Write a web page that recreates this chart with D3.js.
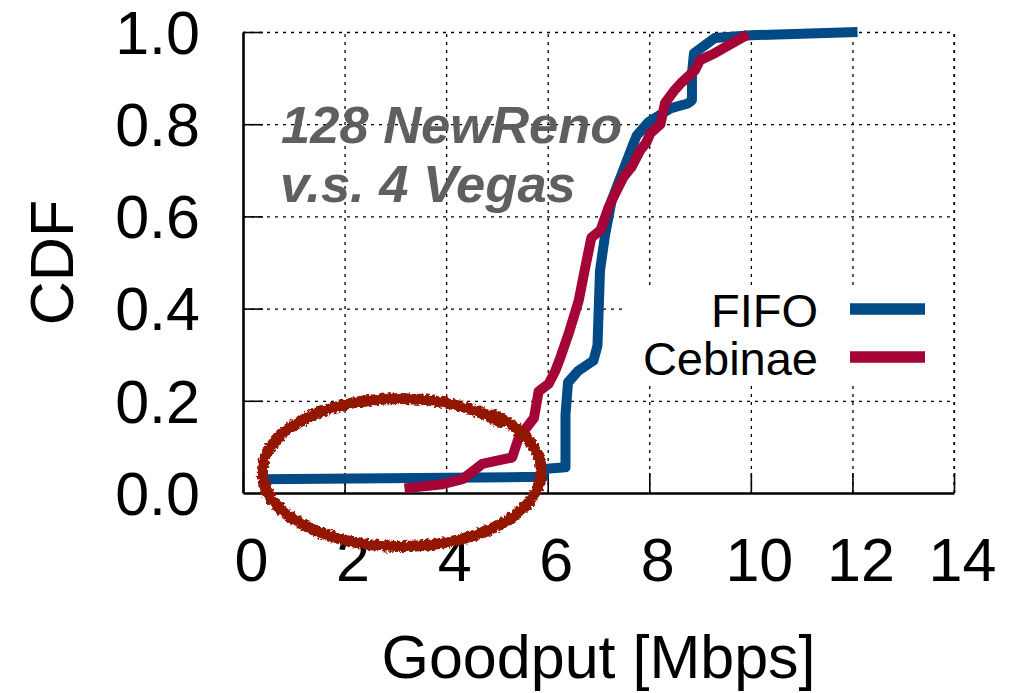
<!DOCTYPE html>
<meta charset="utf-8">
<script src="https://d3js.org/d3.v7.min.js"></script>
<style>
  body { margin: 0; background: #fff; }
  svg text { font-family: "Liberation Sans", Arial, Helvetica, sans-serif; }
</style>
<div id="chart"></div>
<script>

// ticks
var xTicks = [0, 2, 4, 6, 8, 10, 12, 14];
var yTicks = [0.0, 0.2, 0.4, 0.6, 0.8, 1.0];

// FIFO cdf
var fifoX = [0.37, 5.92, 5.92, 6.35, 6.35, 6.40, 6.60, 6.90, 6.98, 7.03, 7.13, 7.26, 7.66, 7.75, 7.98, 8.43, 8.76, 8.84, 8.84, 8.88, 9.29, 10.0, 12.1];
var fifoY = [0.030, 0.035, 0.052, 0.056, 0.17, 0.24, 0.265, 0.287, 0.32, 0.483, 0.56, 0.635, 0.75, 0.775, 0.804, 0.835, 0.845, 0.852, 0.91, 0.954, 0.987, 0.993, 1.0];

// Cebinae cdf
var cebX = [3.18, 3.93, 4.32, 4.71, 5.30, 5.43, 5.73, 5.82, 6.02, 6.15, 6.25, 6.41, 6.61, 6.74, 6.86, 7.04, 7.20, 7.33, 7.49, 7.65, 7.82, 7.94, 8.02, 8.22, 8.31, 8.50, 8.63, 8.90, 9.00, 9.29, 9.94];
var cebY = [0.010, 0.019, 0.030, 0.063, 0.077, 0.12, 0.163, 0.22, 0.237, 0.265, 0.294, 0.345, 0.417, 0.49, 0.554, 0.57, 0.62, 0.65, 0.685, 0.707, 0.743, 0.76, 0.78, 0.80, 0.846, 0.874, 0.89, 0.917, 0.939, 0.954, 0.995];

var seriesNames = ["FIFO", "Cebinae"];
var seriesColors = ["#004a86", "#a50536"];

// ellipse drawn over the low tail (data units)
var circleCenter = [3.1, 0.046];
var circleRadius = [2.68, 0.158];

var margin = {top: 32, right: 58, bottom: 200, left: 243},
    width = 1012 - margin.left - margin.right,
    height = 693 - margin.top - margin.bottom;

var svg = d3.select("#chart")
  .append("svg")
    .attr("width", 1012)
    .attr("height", 693)
  .append("g")
    .attr("transform", "translate(" + margin.left + "," + margin.top + ")");

var defs = svg.append("defs");
var rough = defs.append("filter").attr("id", "rough")
  .attr("x", "-10%").attr("y", "-10%").attr("width", "120%").attr("height", "120%");
rough.append("feTurbulence")
  .attr("type", "fractalNoise").attr("baseFrequency", 0.3)
  .attr("numOctaves", 3).attr("seed", 4).attr("result", "noise");
rough.append("feDisplacementMap")
  .attr("in", "SourceGraphic").attr("in2", "noise")
  .attr("scale", 6).attr("xChannelSelector", "R").attr("yChannelSelector", "G");

var x = d3.scaleLinear().domain([0, 14]).range([0, width]);
var y = d3.scaleLinear().domain([0, 1]).range([height, 0]);

// grid
function styleGrid(g) {
  g.select(".domain").remove();
  g.selectAll("line")
    .attr("stroke", "#000")
    .attr("stroke-width", 1.3)
    .attr("stroke-dasharray", "3,5");
}
svg.append("g")
  .attr("transform", "translate(0," + height + ")")
  .call(d3.axisBottom(x).tickValues(xTicks.slice(1)).tickSize(-height).tickFormat(""))
  .call(styleGrid);
svg.append("g")
  .call(d3.axisLeft(y).tickValues(yTicks.slice(1)).tickSize(-width).tickFormat(""))
  .call(styleGrid);

// legend background hides the grid
svg.append("rect")
  .attr("x", 382).attr("y", 253)
  .attr("width", 325).attr("height", 97)
  .attr("fill", "#fff");

// right border, dotted, on top of the legend box
svg.append("line")
  .attr("x1", x(14)).attr("x2", x(14))
  .attr("y1", y(0)).attr("y2", y(1))
  .attr("stroke", "#000").attr("stroke-width", 1.3)
  .attr("stroke-dasharray", "3,5");

// axes
var xAxis = svg.append("g")
  .attr("transform", "translate(0," + height + ")")
  .call(d3.axisBottom(x).tickValues(xTicks).tickSize(-20).tickSizeOuter(0).tickPadding(45));
var yAxis = svg.append("g")
  .call(d3.axisLeft(y).tickValues(yTicks).tickSize(-20).tickSizeOuter(0).tickPadding(43)
    .tickFormat(d3.format(".1f")));

[xAxis, yAxis].forEach(function(a) {
  a.select(".domain").attr("stroke", "#000").attr("stroke-width", 2.6);
  a.selectAll(".tick line").attr("stroke", "#000").attr("stroke-width", 1.6);
  a.selectAll("text")
    .attr("fill", "#000")
    .style("font-size", "61px");
});
xAxis.selectAll("text").attr("dx", 8);
yAxis.selectAll("text").attr("dy", "0.35em");
yAxis.select(".tick").select("line").remove();

// axis titles
svg.append("text")
  .attr("x", width / 2)
  .attr("y", height + 185)
  .attr("text-anchor", "middle")
  .style("font-size", "61px")
  .text("Goodput [Mbps]");

svg.append("text")
  .attr("transform", "translate(" + (-170) + "," + (height / 2) + ") rotate(-90)")
  .attr("text-anchor", "middle")
  .style("font-size", "61px")
  .text("CDF");

// curves
var line = d3.line()
  .x(function(d) { return x(d[0]); })
  .y(function(d) { return y(d[1]); });

var series = [
  d3.zip(fifoX, fifoY),
  d3.zip(cebX, cebY)
];

series.forEach(function(s, i) {
  svg.append("path")
    .datum(s)
    .attr("fill", "none")
    .attr("stroke", seriesColors[i])
    .attr("stroke-width", 10)
    .attr("stroke-linejoin", "round")
    .attr("stroke-linecap", "butt")
    .attr("d", line);
});

// legend
seriesNames.forEach(function(name, i) {
  var ly = 277 + i * 48;
  svg.append("text")
    .attr("x", 575)
    .attr("y", ly + 17.5)
    .attr("text-anchor", "end")
    .style("font-size", "47px")
    .text(name);
  svg.append("line")
    .attr("x1", 607).attr("x2", 682)
    .attr("y1", ly).attr("y2", ly)
    .attr("stroke", seriesColors[i])
    .attr("stroke-width", 11.5);
});

// annotation
var note = svg.append("text")
  .attr("fill", "#5f5f5f")
  .style("font-size", "52.5px")
  .style("font-weight", "bold")
  .style("font-style", "italic");
note.append("tspan").attr("x", 38).attr("y", 111).text("128 NewReno");
note.append("tspan").attr("x", 37).attr("y", 170).text("v.s. 4 Vegas");

// hand drawn ring round the tail
var cx = x(circleCenter[0]), cy = y(circleCenter[1]);
var rx = x(circleRadius[0]) - x(0), ry = y(0) - y(circleRadius[1]);
var ring = [];
for (var k = 0; k <= 140; k++) {
  var t = -0.75 - k / 140 * (2 * Math.PI + 0.12);
  var grow = 1 + 0.04 * k / 140;
  ring.push([cx + rx * grow * Math.cos(t), cy + ry * grow * Math.sin(t)]);
}
svg.append("path")
  .datum(ring)
  .attr("fill", "none")
  .attr("stroke", "#921500")
  .attr("stroke-width", 11)
  .attr("stroke-linecap", "round")
  .attr("filter", "url(#rough)")
  .attr("d", d3.line().curve(d3.curveCatmullRom));

</script>
